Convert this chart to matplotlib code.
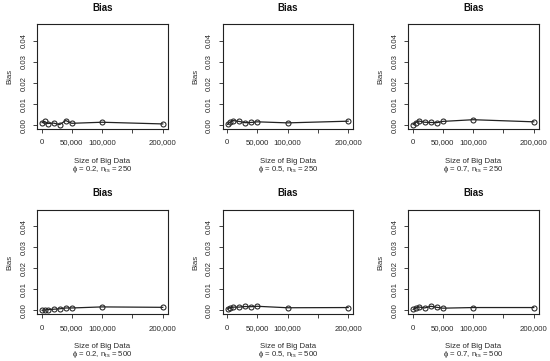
import numpy as np
import matplotlib
matplotlib.use('Agg')
import matplotlib.pyplot as plt

plt.rcParams['font.family'] = ['Liberation Sans', 'DejaVu Sans']
plt.rcParams['mathtext.fontset'] = 'custom'
plt.rcParams['mathtext.rm'] = 'Liberation Sans'
plt.rcParams['mathtext.it'] = 'Liberation Sans:italic'

# data
sizes = [1000, 5000, 10000, 20000, 30000, 40000, 50000, 100000, 200000]
phis = ['0.2', '0.5', '0.7']
n_ts = ['250', '500']
bias_02_250 = [0.0012, 0.0018, 0.0008, 0.0010, 0.0003, 0.0022, 0.0009, 0.0014, 0.0006]
bias_05_250 = [0.0004, 0.0014, 0.0022, 0.0018, 0.0012, 0.0013, 0.0016, 0.0011, 0.0019]
bias_07_250 = [0.0003, 0.0012, 0.0020, 0.0014, 0.0013, 0.0012, 0.0018, 0.0026, 0.0016]
bias_02_500 = [0.0001, 0.0002, 0.0004, 0.0006, 0.0008, 0.0012, 0.0012, 0.0017, 0.0015]
bias_05_500 = [0.0007, 0.0013, 0.0016, 0.0016, 0.0019, 0.0018, 0.0020, 0.0013, 0.0014]
bias_07_500 = [0.0005, 0.0012, 0.0017, 0.0012, 0.0020, 0.0015, 0.0011, 0.0014, 0.0014]
x_ticks = [0, 50000, 100000, 150000, 200000]
x_ticklabels = ['0', '50,000', '100,000', '', '200,000']
y_ticks = [0.00, 0.01, 0.02, 0.03, 0.04]

panels = [[bias_02_250, bias_05_250, bias_07_250],
          [bias_02_500, bias_05_500, bias_07_500]]

fig = plt.figure(figsize=(5.5, 3.61), dpi=100)
lefts = [0.0678, 0.4049, 0.7424]
bottoms = [0.6427, 0.1294]
w, h = 0.2369, 0.2895
fs = 5.6  # axis text size
col = '#222222'

for r in range(2):
    for c in range(3):
        ax = fig.add_axes([lefts[c], bottoms[r], w, h])
        ax.plot(sizes, panels[r][c], color=col, lw=0.9, marker='o', ms=3.6,
                mfc='none', mec=col, mew=0.75)
        ax.set_xlim(-6960, 207960)
        ax.set_ylim(-0.0018, 0.0478)
        ax.set_xticks(x_ticks)
        ax.set_xticklabels(x_ticklabels)
        ax.set_yticks(y_ticks)
        ax.set_yticklabels(['%.2f' % v for v in y_ticks], rotation=90, va='center')
        ax.tick_params(length=3, width=0.6, labelsize=fs, colors=col, labelcolor='#2a2a2a')
        ax.tick_params(axis='x', pad=4.5)
        ax.tick_params(axis='y', pad=4)
        for s in ax.spines.values():
            s.set_linewidth(0.8)
            s.set_color(col)
        ax.set_title('Bias', fontsize=7, fontweight='bold', pad=10, color='#111111')
        ax.set_ylabel('Bias', fontsize=fs, labelpad=5, color='#2a2a2a')
        ax.set_xlabel('Size of Big Data\n' + 'ϕ = ' + phis[c] + r', n$_{\mathrm{ts}}$ = ' + n_ts[r],
                      fontsize=fs, labelpad=8, linespacing=0.95, color='#2a2a2a')

fig.savefig('out.png', dpi=100, facecolor='white')
